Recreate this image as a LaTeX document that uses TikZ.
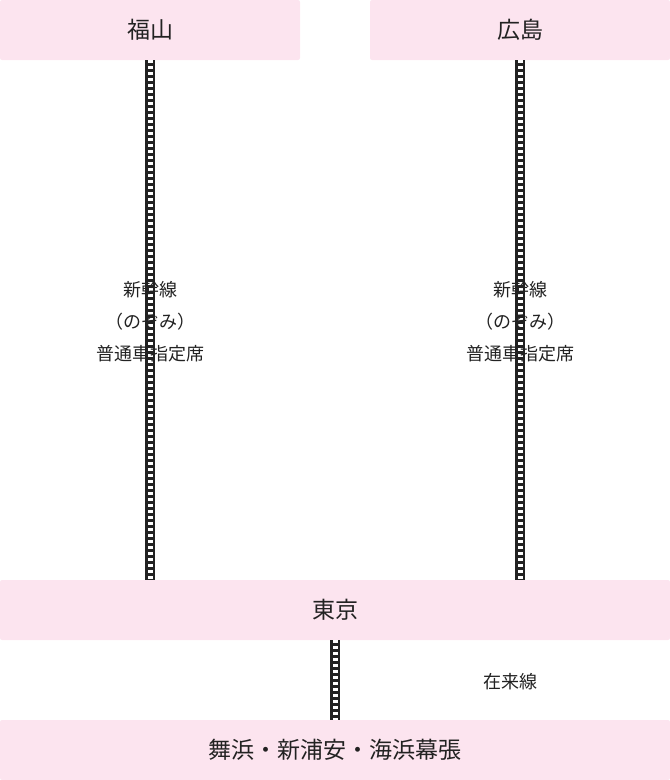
\documentclass[tikz,border=0pt]{standalone}
\usepackage{fontspec}
\setmainfont{Noto Sans CJK JP}
\usepackage{tikz}
\usetikzlibrary{positioning}
\definecolor{StationPink}{HTML}{FCE4EF}
\definecolor{RailGrey}{HTML}{222222}
\tikzstyle{station}=[rectangle,rounded corners=2pt,fill=StationPink,text=RailGrey,
                     minimum height=60pt,font=\fontsize{23}{26}\selectfont,inner sep=0pt]
\tikzstyle{rail}=[draw=RailGrey,line width=10pt]
\tikzstyle{sleeper}=[draw=white,line width=5pt,dash pattern=on 3pt off 3pt]
\tikzstyle{linelabel}=[text=RailGrey,font=\fontsize{18}{32}\selectfont,align=center]
\begin{document}
\begin{tikzpicture}[x=1pt,y=-1pt]
      \useasboundingbox (0,0) rectangle (670,780);
      \node[station,minimum width=300pt] (fukuyama) at (150,30) {福山};
      \node[station,minimum width=300pt] (hiroshima) at (520,30) {広島};
      \node[station,minimum width=670pt] (tokyo) at (335,610) {東京};
      \node[station,minimum width=670pt] (maihama) at (335,750) {舞浜・新浦安・海浜幕張};
      % rails
      \foreach \s in {rail,sleeper}{
        \draw[\s] (fukuyama.south) -- (fukuyama.south |- tokyo.north);
        \draw[\s] (hiroshima.south) -- (hiroshima.south |- tokyo.north);
        \draw[\s] (tokyo.south) -- (maihama.north);
      }
      \node[linelabel] (shinkansenA) at (150,322) {新幹線\\（のぞみ）\\普通車指定席};
      \node[linelabel] (shinkansenB) at (520,322) {新幹線\\（のぞみ）\\普通車指定席};
      \node[linelabel] (zairai) at (510,682) {在来線};
   \end{tikzpicture}
\end{document}
